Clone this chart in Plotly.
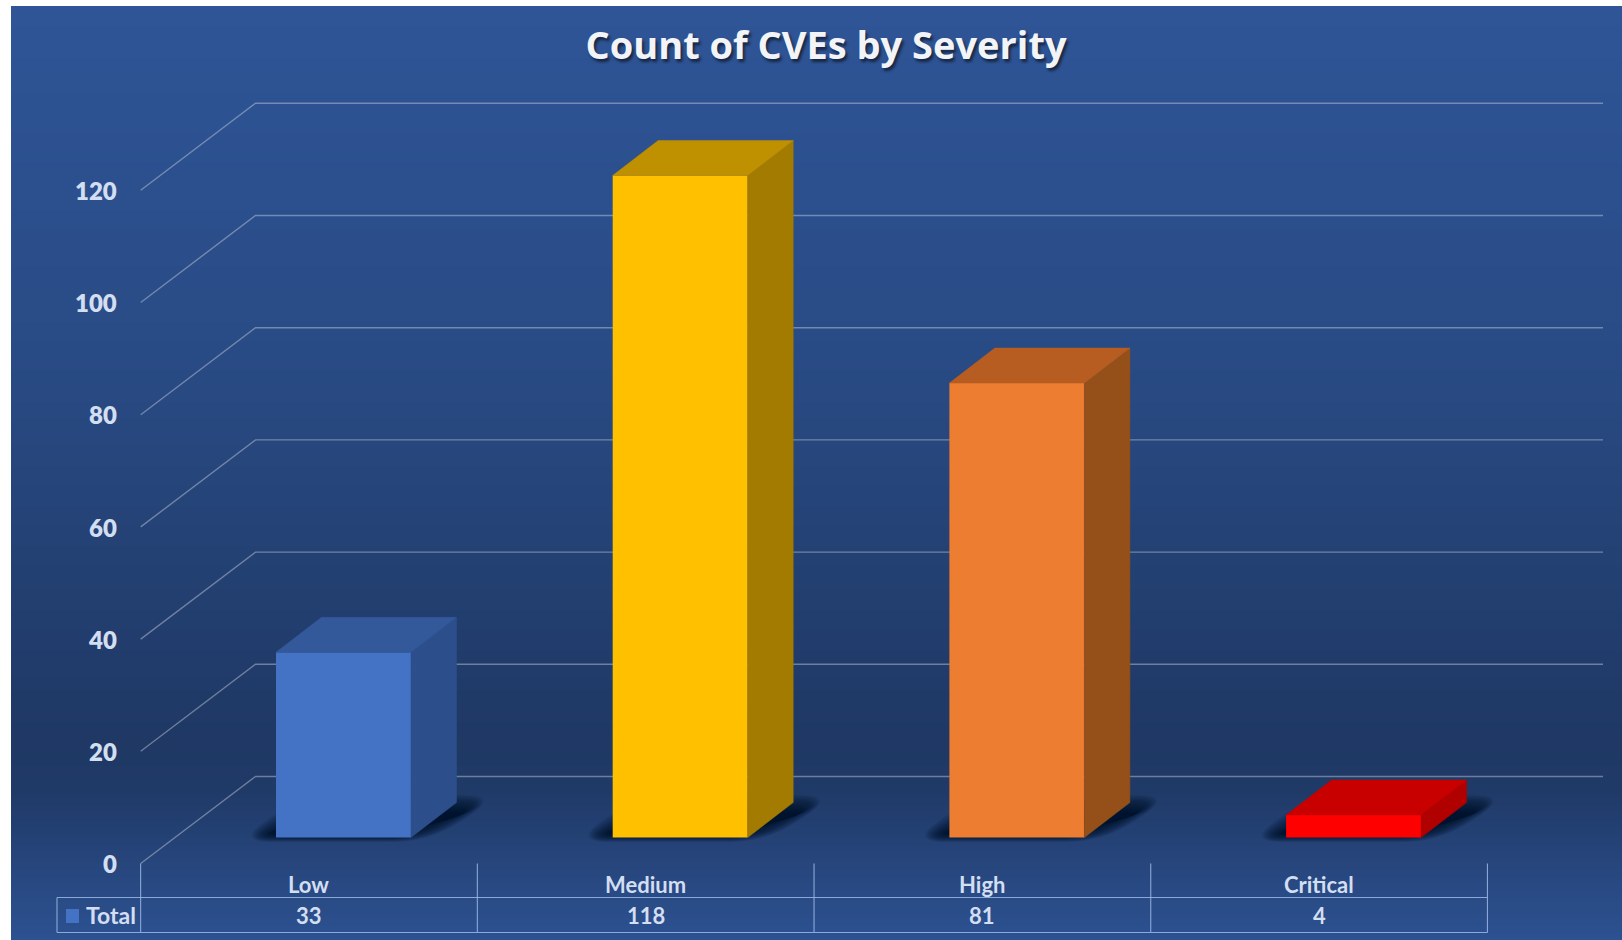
import plotly.graph_objects as go

# Chart data
categories = ["Low", "Medium", "High", "Critical"]
counts = [33, 118, 81, 4]
y_ticks = [0, 20, 40, 60, 80, 100, 120]
series_name = "Total"

# Face colours per bar
front_colors = ["#4472C4", "#FFC000", "#ED7D31", "#FF0000"]
side_colors = ["#2C4F8C", "#A37B00", "#955019", "#B00000"]
top_colors = ["#33599A", "#BF9000", "#B85D22", "#C80000"]

# Canvas and axis scale: one category step and one count in pixels
W, H = 1622, 940
STEP_PX = 336.7
UNIT_PX = 5.61
ORIGIN_X_PX = 343.5
ORIGIN_Y_PX = 837.5
x_range = [(0 - ORIGIN_X_PX) / STEP_PX, (W - ORIGIN_X_PX) / STEP_PX]
y_range = [(ORIGIN_Y_PX - H) / UNIT_PX, ORIGIN_Y_PX / UNIT_PX]

# Oblique projection, in axis units
BAR_WIDTH = 0.401
DEPTH_X = 45.5 / STEP_PX
DEPTH_Y = 35.0 / UNIT_PX
WALL_LEFT = (140.7 - ORIGIN_X_PX) / STEP_PX
WALL_BACK = (255.5 - ORIGIN_X_PX) / STEP_PX
WALL_RIGHT = (1603 - ORIGIN_X_PX) / STEP_PX
FLOOR_FRONT = (ORIGIN_Y_PX - 863.5) / UNIT_PX
FLOOR_BACK = (ORIGIN_Y_PX - 776.5) / UNIT_PX

# Data table under the plot
TABLE_OFFSET = -0.1025
TABLE_TOP = FLOOR_FRONT
TABLE_MID = (ORIGIN_Y_PX - 897.5) / UNIT_PX
TABLE_BOTTOM = (ORIGIN_Y_PX - 932.5) / UNIT_PX
LEGEND_LEFT = (57 - ORIGIN_X_PX) / STEP_PX

LINE_TABLE = "rgba(150,178,225,0.9)"
LINE_GRID = "rgba(195,203,218,0.48)"
TEXT_COLOR = "#D3DEF1"
FONT = "Lato"


def mix(a, b, t):
    return tuple(round(a[i] + (b[i] - a[i]) * t) for i in range(3))


def rounded_path(points, radius_px):
    """Closed SVG path in axis units whose corners are rounded by radius_px."""
    n = len(points)
    parts = []
    for i, (x, y) in enumerate(points):
        px0, py0 = points[i - 1]
        nx0, ny0 = points[(i + 1) % n]
        def toward(ox, oy):
            length = (((ox - x) * STEP_PX) ** 2 + ((oy - y) * UNIT_PX) ** 2) ** 0.5
            f = min(radius_px / length, 0.5)
            return x + (ox - x) * f, y + (oy - y) * f
        ax, ay = toward(px0, py0)
        bx, by = toward(nx0, ny0)
        parts.append(f"{'M' if i == 0 else 'L'} {ax} {ay} Q {x} {y} {bx} {by}")
    return " ".join(parts) + " Z"


shapes = []

# Panel background: vertical gradient built from thin bands
stops = [(6, (47, 85, 151)), (350, (41, 75, 133)), (740, (31, 56, 100)), (790, (32, 58, 104)), (940, (45, 82, 146))]
PANEL_LEFT = 11
for y in range(6, H, 4):
    for (y0, c0), (y1, c1) in zip(stops, stops[1:]):
        if y0 <= y <= y1:
            col = mix(c0, c1, (y - y0) / (y1 - y0))
            break
    shapes.append(dict(
        type="rect", xref="paper", yref="paper", layer="below",
        x0=PANEL_LEFT / W, x1=1, y0=1 - y / H, y1=1 - min(y + 5, H) / H,
        fillcolor=f"rgb{col}", line_width=0,
    ))

# Back wall and side wall gridlines
for t in y_ticks:
    shapes.append(dict(
        type="path", xref="x", yref="y", layer="below",
        path=(f"M {WALL_LEFT} {t + FLOOR_FRONT} L {WALL_BACK} {t + FLOOR_BACK} "
              f"L {WALL_RIGHT} {t + FLOOR_BACK}"),
        line=dict(color=LINE_GRID, width=1.4),
    ))

# Soft floor shadow: a rounded parallelogram stacked from expanded to contracted
# copies, so opacity builds up gradually across its edge. Offsets are pixels
# measured from the foot of the bar.
SHADOW_LAYERS = 32
SHADOW_SPREAD = 18
for i, _ in enumerate(categories):
    left = i - BAR_WIDTH / 2
    right = i + BAR_WIDTH / 2
    for k in range(SHADOW_LAYERS):
        e = SHADOW_SPREAD * (1 - 2 * k / (SHADOW_LAYERS - 1))
        ex = e / STEP_PX
        corners = [
            (left - 24 / STEP_PX - ex, -(0.25 * e) / UNIT_PX),
            (right + 2 / STEP_PX + ex, -(0.25 * e) / UNIT_PX),
            (right + 72 / STEP_PX + ex, (33 + 0.55 * e) / UNIT_PX),
            (left + 45 / STEP_PX - ex, (33 + 0.55 * e) / UNIT_PX),
        ]
        shapes.append(dict(
            type="path", xref="x", yref="y", layer="below",
            path=rounded_path(corners, 10 + 0.8 * (e + SHADOW_SPREAD)),
            fillcolor="rgba(8,14,34,0.052)", line_width=0,
        ))

# Table rules
for k in range(len(categories) + 1):
    xv = k + TABLE_OFFSET - 0.5
    shapes.append(dict(type="line", xref="x", yref="y", x0=xv, x1=xv,
                       y0=TABLE_TOP, y1=TABLE_BOTTOM,
                       line=dict(color=LINE_TABLE, width=1.1)))
table_right = len(categories) + TABLE_OFFSET - 0.5
for yv in (TABLE_MID, TABLE_BOTTOM):
    shapes.append(dict(type="line", xref="x", yref="y", x0=LEGEND_LEFT, x1=table_right,
                       y0=yv, y1=yv, line=dict(color=LINE_TABLE, width=1.1)))
shapes.append(dict(type="line", xref="x", yref="y", x0=LEGEND_LEFT, x1=LEGEND_LEFT,
                   y0=TABLE_MID, y1=TABLE_BOTTOM, line=dict(color=LINE_TABLE, width=1.1)))

# Legend key in the table row
KEY_X0 = (66 - ORIGIN_X_PX) / STEP_PX
KEY_X1 = (79 - ORIGIN_X_PX) / STEP_PX
shapes.append(dict(type="rect", xref="x", yref="y", x0=KEY_X0, x1=KEY_X1,
                   y0=(ORIGIN_Y_PX - 923) / UNIT_PX, y1=(ORIGIN_Y_PX - 909) / UNIT_PX,
                   fillcolor=front_colors[0], line_width=0))

fig = go.Figure()

# Front faces
fig.add_trace(go.Bar(
    x=list(range(len(categories))), y=counts, width=BAR_WIDTH,
    marker=dict(color=front_colors, line_width=0),
    name=series_name, customdata=categories, showlegend=False,
    hovertemplate="%{customdata}: %{y}<extra></extra>",
))

# Side and top faces projected from each bar's value
for i, v in enumerate(counts):
    left = i - BAR_WIDTH / 2
    right = i + BAR_WIDTH / 2
    side = [(right, 0), (right + DEPTH_X, DEPTH_Y), (right + DEPTH_X, v + DEPTH_Y), (right, v), (right, 0)]
    top = [(left, v), (right, v), (right + DEPTH_X, v + DEPTH_Y), (left + DEPTH_X, v + DEPTH_Y), (left, v)]
    for pts, color in ((side, side_colors[i]), (top, top_colors[i])):
        fig.add_trace(go.Scatter(
            x=[p[0] for p in pts], y=[p[1] for p in pts],
            mode="lines", fill="toself", fillcolor=color,
            line=dict(color=color, width=0.5),
            hoverinfo="skip", showlegend=False,
        ))

annotations = []

# Value axis labels, right-aligned at the front corner of the side wall
for t in y_ticks:
    annotations.append(dict(
        x=(118.5 - ORIGIN_X_PX) / STEP_PX, y=t + FLOOR_FRONT - 0.05, xref="x", yref="y",
        text=str(t), showarrow=False, xanchor="right", yanchor="middle",
        font=dict(family=FONT, size=24, color=TEXT_COLOR, weight=800),
    ))

# Table text
for i, (c, v) in enumerate(zip(categories, counts)):
    xv = i + TABLE_OFFSET
    annotations.append(dict(
        x=xv, y=(ORIGIN_Y_PX - 884.5) / UNIT_PX, xref="x", yref="y", text=c,
        showarrow=False, xanchor="center", yanchor="middle",
        font=dict(family=FONT, size=22, color=TEXT_COLOR, weight=700),
    ))
    annotations.append(dict(
        x=xv, y=(ORIGIN_Y_PX - 915) / UNIT_PX, xref="x", yref="y", text=str(v),
        showarrow=False, xanchor="center", yanchor="middle",
        font=dict(family=FONT, size=22, color=TEXT_COLOR, weight=700),
    ))
annotations.append(dict(
    x=(84 - ORIGIN_X_PX) / STEP_PX, y=(ORIGIN_Y_PX - 915) / UNIT_PX, xref="x", yref="y",
    text=series_name, showarrow=False, xanchor="left", yanchor="middle",
    font=dict(family=FONT, size=23, color=TEXT_COLOR, weight=700),
))

fig.update_layout(
    width=W, height=H, autosize=False,
    margin=dict(l=0, r=0, t=0, b=0),
    paper_bgcolor="white", plot_bgcolor="rgba(0,0,0,0)",
    title=dict(
        text="Count of CVEs by Severity",
        x=826 / W, y=1 - 46 / H, xanchor="center", yanchor="middle", xref="paper", yref="paper",
        font=dict(family="Open Sans", size=38, color="#F2F4F8", weight=700,
                  shadow="2px 3px 3px rgba(0,0,0,0.55)"),
    ),
    xaxis=dict(range=x_range, visible=False, fixedrange=True),
    yaxis=dict(range=y_range, visible=False, fixedrange=True),
    shapes=shapes,
    annotations=annotations,
    showlegend=False,
)

fig.write_html("out.html", config=dict(displayModeBar=False))
